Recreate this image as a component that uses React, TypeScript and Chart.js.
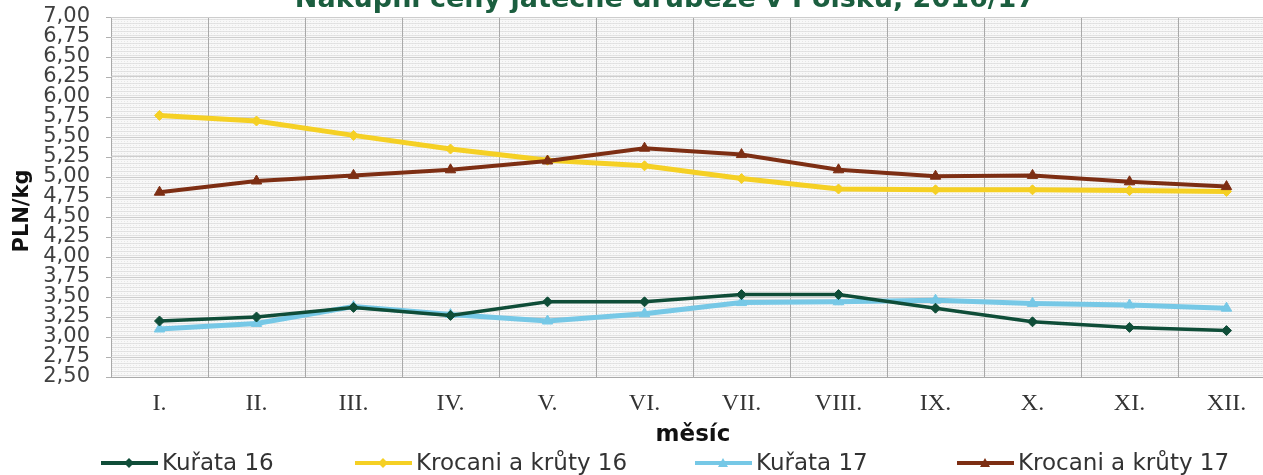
import React, { useEffect, useRef } from "react";
import { Chart, registerables } from "chart.js";

Chart.register(...registerables);

const TITLE = "Nákupní ceny jatečné drůbeže v Polsku, 2016/17";
const Y_TITLE = "PLN/kg";
const X_TITLE = "měsíc";
const months = ["I.", "II.", "III.", "IV.", "V.", "VI.", "VII.", "VIII.", "IX.", "X.", "XI.", "XII."];

const kurata16 = [3.20, 3.25, 3.37, 3.27, 3.44, 3.44, 3.53, 3.53, 3.36, 3.19, 3.12, 3.08];
const krocani16 = [5.77, 5.70, 5.52, 5.35, 5.21, 5.14, 4.98, 4.85, 4.84, 4.84, 4.83, 4.82];
const kurata17 = [3.10, 3.17, 3.38, 3.28, 3.20, 3.29, 3.43, 3.44, 3.46, 3.42, 3.40, 3.36];
const krocani17 = [4.81, 4.95, 5.02, 5.09, 5.20, 5.36, 5.28, 5.09, 5.01, 5.02, 4.94, 4.88];

const seriesNames = ["Kuřata 16", "Krocani a krůty 16", "Kuřata 17", "Krocani a krůty 17"];
const seriesColors = ["#0f4d38", "#f5d024", "#76c8e6", "#7d2e13"];
const seriesMarkers = ["rectRot", "rectRot", "triangle", "triangle"];
const seriesWidths = [3.5, 5, 5, 4];

const Y_MIN = 2.5;
const Y_MAX = 7;
const Y_STEP = 0.25;

const CANVAS_W = 1290;
const CANVAS_H = 475;

function drawMarker(ctx: CanvasRenderingContext2D, style: string, x: number, y: number, r: number, color: string) {
  ctx.save();
  ctx.fillStyle = color;
  ctx.beginPath();
  if (style === "triangle") {
    ctx.moveTo(x, y - r);
    ctx.lineTo(x + r, y + r * 0.8);
    ctx.lineTo(x - r, y + r * 0.8);
  } else {
    ctx.moveTo(x, y - r);
    ctx.lineTo(x + r, y);
    ctx.lineTo(x, y + r);
    ctx.lineTo(x - r, y);
  }
  ctx.closePath();
  ctx.fill();
  ctx.restore();
}

const bgPlugin = {
  id: "bgGrid",
  beforeDraw(chart: any) {
    const { ctx, chartArea } = chart;
    const { left, right, top, bottom } = chartArea;
    ctx.save();
    ctx.fillStyle = "#f8f8f8";
    ctx.fillRect(left, top, right - left, bottom - top);
    ctx.fillStyle = "#e3e3e3";
    for (let y = top + 2; y < bottom; y += 4) {
      ctx.fillRect(left, y, right - left, 1);
    }
    ctx.fillStyle = "rgba(220,220,220,0.6)";
    for (let x = left + 1; x < right; x += 3) {
      for (let y = top; y < bottom; y += 2) {
        ctx.fillRect(x, y, 1, 1);
      }
    }
    // small tick marks on the left of the value axis
    ctx.fillStyle = "#b0b0b0";
    const yScale = chart.scales.y;
    for (let v = Y_MIN; v <= Y_MAX + 1e-9; v += Y_STEP) {
      const py = Math.round(yScale.getPixelForValue(v));
      ctx.fillRect(left - 5, py, 5, 1);
    }
    ctx.restore();
  },
};

const decorPlugin = {
  id: "decor",
  afterDraw(chart: any) {
    const { ctx } = chart;
    ctx.save();
    // title (partially cut at the top, as in the reference)
    ctx.font = "bold 27px 'DejaVu Sans'";
    ctx.fillStyle = "#1b5e3f";
    ctx.textAlign = "center";
    ctx.textBaseline = "alphabetic";
    ctx.fillText(TITLE, 665, 7);

    // y axis title
    ctx.save();
    ctx.translate(23, 211);
    ctx.rotate(-Math.PI / 2);
    ctx.font = "bold 21px 'DejaVu Sans'";
    ctx.fillStyle = "#111111";
    ctx.textAlign = "center";
    ctx.textBaseline = "middle";
    ctx.fillText(Y_TITLE, 0, 0);
    ctx.restore();

    // legend
    const starts = [101, 355, 695, 957];
    const ly = 463;
    ctx.font = "23px 'DejaVu Sans'";
    ctx.textAlign = "left";
    ctx.textBaseline = "middle";
    for (let i = 0; i < seriesNames.length; i++) {
      const x0 = starts[i];
      ctx.strokeStyle = seriesColors[i];
      ctx.lineWidth = 4;
      ctx.beginPath();
      ctx.moveTo(x0, ly);
      ctx.lineTo(x0 + 57, ly);
      ctx.stroke();
      drawMarker(ctx, seriesMarkers[i], x0 + 28, ly, 5, seriesColors[i]);
      ctx.fillStyle = "#333333";
      ctx.fillText(seriesNames[i], x0 + 61, ly + 1);
    }
    ctx.restore();
  },
};

export default function App() {
  const ref = useRef<HTMLCanvasElement | null>(null);

  useEffect(() => {
    if (!ref.current) return;
    const values = [kurata16, krocani16, kurata17, krocani17];
    const orders = [0, 2, 3, 1];
    const chart = new Chart(ref.current, {
      type: "line",
      data: {
        labels: months,
        datasets: values.map((d, i) => ({
          label: seriesNames[i],
          data: d,
          borderColor: seriesColors[i],
          backgroundColor: seriesColors[i],
          borderWidth: seriesWidths[i],
          pointStyle: seriesMarkers[i] as any,
          pointRadius: seriesMarkers[i] === "triangle" ? 6 : 5,
          pointBorderWidth: 1,
          pointBackgroundColor: seriesColors[i],
          pointBorderColor: seriesColors[i],
          tension: 0,
          fill: false,
          order: orders[i],
        })),
      },
      options: {
        responsive: false,
        animation: false,
        devicePixelRatio: 1,
        layout: { padding: { left: 0, right: 15, top: 17, bottom: 26 } },
        plugins: {
          legend: { display: false },
          title: { display: false },
          tooltip: { enabled: false },
        },
        scales: {
          x: {
            type: "category",
            offset: true,
            grid: { offset: true, color: "#a9a9a9", lineWidth: 1, drawTicks: false },
            border: { color: "#a9a9a9" },
            ticks: {
              color: "#333333",
              padding: 12,
              font: { family: "'Liberation Serif', serif", size: 24 },
              maxRotation: 0,
              autoSkip: false,
            },
            title: {
              display: true,
              text: X_TITLE,
              color: "#111111",
              font: { family: "'DejaVu Sans'", size: 23, weight: "bold" },
              padding: { top: 0, bottom: 0 },
            },
            afterFit: (scale: any) => {
              scale.height = 72;
              scale.paddingLeft = 0;
              scale.paddingRight = 0;
            },
          },
          y: {
            min: Y_MIN,
            max: Y_MAX,
            grid: { color: "#cdcdcd", lineWidth: 1, drawTicks: false },
            border: { display: false },
            ticks: {
              stepSize: Y_STEP,
              autoSkip: false,
              color: "#404040",
              padding: 21,
              font: { family: "'DejaVu Sans'", size: 21 },
              callback: (v: any) => Number(v).toFixed(2).replace(".", ","),
            },
            title: { display: false },
            afterFit: (scale: any) => {
              scale.width = 111;
              scale.paddingTop = 0;
              scale.paddingBottom = 0;
            },
          },
        },
      },
      plugins: [bgPlugin, decorPlugin],
    } as any);
    return () => chart.destroy();
  }, []);

  return (
    <div
      style={{
        position: "fixed",
        left: 0,
        top: 0,
        width: 1263,
        height: 475,
        overflow: "hidden",
        background: "#ffffff",
      }}
    >
      <canvas
        ref={ref}
        width={CANVAS_W}
        height={CANVAS_H}
        style={{ width: CANVAS_W, height: CANVAS_H, display: "block" }}
      />
    </div>
  );
}
